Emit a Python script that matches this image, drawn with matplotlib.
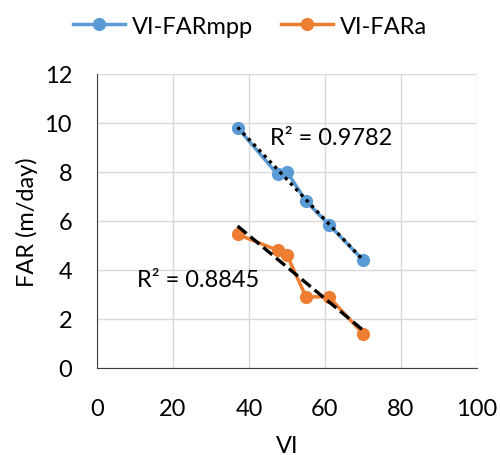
import numpy as np
import matplotlib.pyplot as plt

plt.rcParams['font.family'] = ['Lato', 'DejaVu Sans']

vi = [37, 47.5, 50, 55, 61, 70]
far_mpp = [9.8, 7.9, 8.0, 6.8, 5.85, 4.4]
far_a = [5.45, 4.8, 4.6, 2.9, 2.9, 1.4]

blue = '#5B9BD5'
orange = '#ED7D31'

fig = plt.figure(figsize=(5, 4.56), dpi=100)
ax = fig.add_axes([0.194, 0.191, 0.76, 0.645])

ax.plot(vi, far_mpp, color=blue, lw=2.5, marker='o', ms=8.5, label='VI-FARmpp', zorder=3)
ax.plot(vi, far_a, color=orange, lw=2.5, marker='o', ms=8.5, label='VI-FARa', zorder=3)

# linear trendlines
x = np.array(vi)
for y, ls in [(far_mpp, (0, (1, 1.3))), (far_a, (0, (3.5, 1.5)))]:
    k, b = np.polyfit(x, y, 1)
    ax.plot([x.min(), x.max()], [k * x.min() + b, k * x.max() + b],
            color='black', lw=2.4, ls=ls, zorder=4)

ax.text(45.5, 9.4, 'R² = 0.9782', fontsize=17, va='center')
ax.text(10.5, 3.6, 'R² = 0.8845', fontsize=17, va='center')

ax.set_xlim(0, 100)
ax.set_ylim(0, 12)
ax.set_xticks(range(0, 101, 20))
ax.set_yticks(range(0, 13, 2))
ax.grid(color='#D9D9D9', lw=1)
ax.set_axisbelow(True)
for s in ['top', 'right']:
    ax.spines[s].set_visible(False)
ax.spines['bottom'].set_color('#404040')
ax.spines['left'].set_color('#404040')
ax.tick_params(length=0, labelsize=17)
ax.tick_params(axis='x', pad=22)
ax.tick_params(axis='y', pad=18)
ax.set_xlabel('VI', fontsize=17, labelpad=11)
ax.set_ylabel('FAR (m/day)', fontsize=17, labelpad=5)

fig.legend(loc='upper center', bbox_to_anchor=(0.5, 1.01), ncol=2, frameon=False,
           fontsize=17, handlelength=2.2, handletextpad=0.3, columnspacing=1.2)

fig.savefig('out.png')
